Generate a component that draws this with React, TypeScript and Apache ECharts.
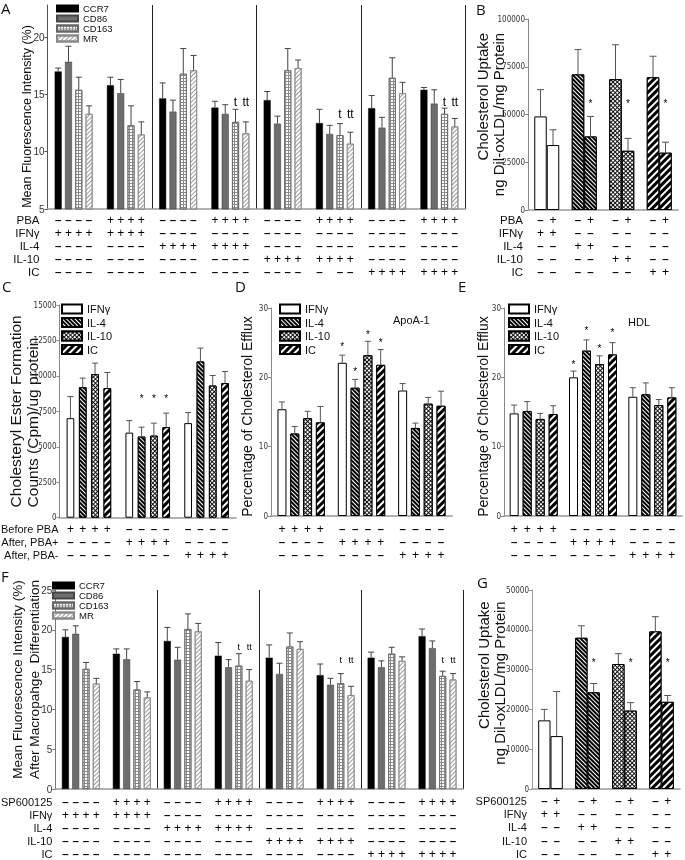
import React, { useEffect, useRef } from "react";
import * as echarts from "echarts";

const FONT = '"Liberation Sans", Arial, Helvetica, sans-serif';
const NARROW = '"Liberation Sans Narrow", "DejaVu Sans Condensed", "Liberation Sans", sans-serif';
const LETTER = '"Open Sans", "Liberation Sans", sans-serif';

// ================= Panel A =================
const A_GROUPS = ["g1", "g2", "g3", "g4", "g5", "g6", "g7", "g8"];
const MARKERS = ["CCR7", "CD86", "CD163", "MR"];
const A_TICKS = [5, 10, 15, 20];
const A_MAX = 22.8;
const A_CCR7 = [17.0, 15.8, 14.65, 13.85, 14.5, 12.5, 13.8, 15.4];
const A_CCR7_ERR = [17.3, 16.5, 16.0, 14.4, 15.25, 13.7, 14.9, 15.6];
const A_CD86 = [17.85, 15.1, 13.5, 13.3, 12.45, 11.55, 12.1, 14.2];
const A_CD86_ERR = [19.2, 16.3, 14.5, 14.1, 13.1, 12.3, 13.0, 15.4];
const A_CD163 = [15.4, 12.3, 16.8, 12.6, 17.1, 11.45, 16.45, 13.3];
const A_CD163_ERR = [16.5, 14.0, 19.0, 13.7, 19.0, 12.45, 18.2, 13.8];
const A_MR = [13.3, 11.5, 17.1, 11.6, 17.3, 10.7, 15.1, 12.2];
const A_MR_ERR = [14.0, 12.6, 18.4, 12.6, 18.0, 11.7, 16.05, 12.9];
// [group, bar, text, y]
const A_MARKS = [
  [3, 2, "t", 14.35], [3, 3, "tt", 14.35],
  [5, 2, "t", 13.3], [5, 3, "tt", 13.3],
  [7, 2, "t", 14.35], [7, 3, "tt", 14.35],
];
const A_ROW_NAMES = ["PBA", "IFNγ", "IL-4", "IL-10", "IC"];
const A_PBA = ["----", "++++", "----", "++++", "----", "++++", "----", "++++"];
const A_IFN = ["++++", "++++", "----", "----", "----", "----", "----", "----"];
const A_IL4 = ["----", "----", "++++", "++++", "----", "----", "----", "----"];
const A_IL10 = ["----", "----", "----", "----", "++++", "++++", "----", "----"];
const A_IC = ["----", "----", "----", "----", "----", "- --", "++++", "++++"];

// ================= Panel B =================
const B_GROUPS = ["IFNγ", "IL-4", "IL-10", "IC"];
const B_TICKS = [0, 25000, 50000, 75000, 100000];
const B_PBA_NEG = [49000, 71000, 68500, 69500];
const B_PBA_NEG_ERR = [63000, 84000, 86500, 80500];
const B_PBA_POS = [34000, 38500, 31000, 30000];
const B_PBA_POS_ERR = [42000, 49000, 37500, 35500];
const B_MARKS = [[1, 1, "*", 55600], [2, 1, "*", 55600], [3, 1, "*", 55600]];
const B_ROW_NAMES = ["PBA", "IFNγ", "IL-4", "IL-10", "IC"];
const B_PBA = ["-+", "-+", "-+", "-+"];
const B_IFN = ["++", "--", "--", "--"];
const B_IL4 = ["--", "++", "--", "--"];
const B_IL10 = ["--", "--", "++", "--"];
const B_IC = ["--", "--", "--", "++"];

// ================= Panels C, D, E =================
const CYTOKINES = ["IFNγ", "IL-4", "IL-10", "IC"];
const CDE_GROUPS = ["Before PBA", "After, PBA+", "After, PBA-"];
const CDE_ROW_NAMES = ["Before PBA", "After, PBA+", "After, PBA-"];
const CDE_BEFORE = ["++++", "----", "----"];
const CDE_AFTER_POS = ["----", "++++", "----"];
const CDE_AFTER_NEG = ["----", "----", "++++"];

const C_TICKS = [0, 2500, 5000, 7500, 10000, 12500, 15000];
const C_IFN = [7020, 6000, 6670];
const C_IFN_ERR = [8545, 6850, 7415];
const C_IL4 = [9210, 5720, 11020];
const C_IL4_ERR = [9845, 6385, 11960];
const C_IL10 = [10130, 5790, 9320];
const C_IL10_ERR = [10900, 6670, 10030];
const C_IC = [9140, 6385, 9490];
const C_IC_ERR = [10240, 7375, 10310];
const C_MARKS = [[1, 1, "*", 8430], [1, 2, "*", 8430], [1, 3, "*", 8430]];

const D_TICKS = [0, 10, 20, 30];
const D_IFN = [15.4, 22.1, 18.1];
const D_IFN_ERR = [16.45, 23.2, 19.1];
const D_IL4 = [11.9, 18.5, 12.7];
const D_IL4_ERR = [12.9, 19.7, 13.4];
const D_IL10 = [14.1, 23.2, 16.2];
const D_IL10_ERR = [15.1, 25.2, 17.1];
const D_IC = [13.5, 21.8, 15.9];
const D_IC_ERR = [15.8, 24.0, 18.0];
const D_MARKS = [[1, 0, "*", 24.4], [1, 1, "*", 20.9], [1, 2, "*", 26.2], [1, 3, "*", 25.0]];

const E_TICKS = [0, 10, 20, 30];
const E_IFN = [14.8, 20.0, 17.2];
const E_IFN_ERR = [16.0, 20.9, 18.5];
const E_IL4 = [15.15, 23.85, 17.55];
const E_IL4_ERR = [16.5, 25.4, 19.2];
const E_IL10 = [14.0, 21.9, 16.0];
const E_IL10_ERR = [14.8, 23.1, 16.8];
const E_IC = [14.7, 23.3, 17.1];
const E_IC_ERR = [15.9, 25.0, 18.5];
const E_MARKS = [[1, 0, "*", 21.9], [1, 1, "*", 26.8], [1, 2, "*", 24.1], [1, 3, "*", 26.4]];

// ================= Panel F =================
const F_TICKS = [0, 5, 10, 15, 20, 25];
const F_CCR7 = [19.1, 17.0, 18.6, 16.75, 16.5, 14.3, 16.5, 19.2];
const F_CCR7_ERR = [20.0, 17.6, 20.3, 18.4, 18.1, 15.7, 17.2, 20.1];
const F_CD86 = [19.5, 16.3, 16.25, 15.3, 14.45, 13.1, 15.3, 17.7];
const F_CD86_ERR = [20.5, 17.6, 17.8, 16.25, 15.8, 13.9, 16.1, 18.6];
const F_CD163 = [15.1, 12.5, 20.1, 15.5, 17.9, 13.3, 17.0, 14.2];
const F_CD163_ERR = [15.9, 13.5, 22.0, 17.0, 19.6, 14.5, 17.8, 14.8];
const F_MR = [13.25, 11.5, 19.8, 13.6, 17.6, 11.8, 16.1, 13.75];
const F_MR_ERR = [13.9, 12.2, 20.8, 15.0, 18.5, 12.9, 16.6, 14.5];
const F_MARKS = [
  [3, 2, "t", 17.8], [3, 3, "tt", 17.8],
  [5, 2, "t", 16.2], [5, 3, "tt", 16.2],
  [7, 2, "t", 16.25], [7, 3, "tt", 16.25],
];
const F_ROW_NAMES = ["SP600125", "IFNγ", "IL-4", "IL-10", "IC"];
const F_SP = ["----", "++++", "----", "++++", "----", "++++", "----", "++++"];
const F_IFN = ["++++", "++++", "----", "----", "----", "----", "----", "----"];
const F_IL4 = ["----", "----", "++++", "++++", "----", "----", "----", "----"];
const F_IL10 = ["----", "----", "----", "----", "++++", "++++", "----", "----"];
const F_IC = ["----", "----", "----", "----", "----", "----", "++++", "++++"];

// ================= Panel G =================
const G_TICKS = [0, 10000, 20000, 30000, 40000, 50000];
const G_SP_NEG = [17250, 38000, 31400, 39600];
const G_SP_NEG_ERR = [20000, 41000, 34000, 43300];
const G_SP_POS = [13300, 24300, 19700, 21900];
const G_SP_POS_ERR = [24500, 26500, 21700, 23500];
const G_MARKS = [[1, 1, "*", 31750], [2, 1, "*", 31750], [3, 1, "*", 31750]];
const G_ROW_NAMES = ["SP600125", "IFNγ", "IL-4", "IL-10", "IC"];
const G_SP = ["-+", "-+", "-+", "-+"];
const G_IFN = ["++", "--", "--", "--"];
const G_IL4 = ["--", "++", "--", "--"];
const G_IL10 = ["--", "--", "++", "--"];
const G_IC = ["--", "--", "--", "++"];

// ================= Styles =================
const MARKER_STYLES: any[] = [
  { color: "#000", borderColor: "#000", borderWidth: 0.5 },
  { color: "#6d6d6d", borderColor: "#444", borderWidth: 0.6 },
  {
    color: "#fff", borderColor: "#666", borderWidth: 0.8,
    decal: { symbol: "rect", symbolSize: 1, symbolKeepAspect: false, color: "#8a8a8a", dashArrayX: [[3, 0], [1, 2]], dashArrayY: [1, 0, 2, 0] },
  },
  {
    color: "#fff", borderColor: "#888", borderWidth: 0.8,
    decal: { symbol: "rect", symbolSize: 1, color: "#9a9a9a", dashArrayX: [1, 0], dashArrayY: [1, 1.5], rotation: -Math.PI / 4 },
  },
];
const CYTO_STYLES: any[] = [
  { color: "#fff", borderColor: "#000", borderWidth: 1 },
  {
    color: "#000", borderColor: "#000", borderWidth: 1,
    decal: { symbol: "rect", symbolSize: 1, color: "#fff", dashArrayX: [1, 0], dashArrayY: [1, 2], rotation: Math.PI / 4 },
  },
  {
    color: "#111", borderColor: "#000", borderWidth: 1,
    decal: { symbol: "rect", symbolSize: 1, color: "#fff", dashArrayX: [2, 1], dashArrayY: [2, 1], rotation: Math.PI / 4 },
  },
  {
    color: "#000", borderColor: "#000", borderWidth: 1,
    decal: { symbol: "rect", symbolSize: 1, color: "#fff", dashArrayX: [1, 0], dashArrayY: [2, 3], rotation: -Math.PI / 4 },
  },
];

function signLabel(s: string) {
  return s
    .split("")
    .map((c) => (c === "+" ? "{p|+}" : c === "-" ? "{m|–}" : "{e| }"))
    .join("");
}
function signRich(w: number) {
  return {
    p: { width: w, align: "center", fontSize: 12, fontFamily: FONT, color: "#000", lineHeight: 11 },
    m: { width: w, align: "center", fontSize: 11.5, fontWeight: "bold", fontFamily: FONT, color: "#000", lineHeight: 11 },
    e: { width: w, align: "center", fontSize: 11.5, fontFamily: FONT, lineHeight: 11 },
  };
}

function buildPanel(p: any, acc: any) {
  const { grid, xAxis, yAxis, series } = acc;
  const gi = grid.length;
  grid.push({ left: p.box[0], top: p.box[1], width: p.box[2], height: p.box[3] });
  const yi = yAxis.length;
  yAxis.push({
    type: "value",
    gridIndex: gi,
    min: p.ticks[0],
    max: p.max,
    axisLine: { show: true, lineStyle: { color: p.yColor, width: 1 } },
    axisTick: { show: true, length: 3, customValues: p.ticks, lineStyle: { color: p.yColor } },
    axisLabel: {
      customValues: p.ticks,
      fontSize: p.tickSize,
      fontFamily: p.tickFont,
      color: "#333",
      margin: 3,
      formatter: (v: number) => String(v),
    },
    splitLine: { show: false },
    name: p.yName,
    nameLocation: "middle",
    nameRotate: 90,
    nameGap: p.yNameGap,
    nameMoveOverlap: false,
    nameTextStyle: {
      fontSize: p.yNameSize,
      fontFamily: FONT,
      color: "#111",
      lineHeight: p.yNameLH,
      padding: p.yNamePad,
      rich: { r: { fontSize: p.yNameSize, fontFamily: FONT, color: "#111", lineHeight: p.yNameLH, align: p.yNameAlign } },
    },
  });
  const xi = xAxis.length;
  xAxis.push({
    type: "category",
    gridIndex: gi,
    data: p.cats,
    position: "bottom",
    axisLine: { show: true, onZero: false, lineStyle: { color: p.xColor, width: 1.6 } },
    axisTick: { show: false },
    axisLabel: { show: false },
    splitLine: p.dividers
      ? { show: true, interval: (i: number) => p.dividers.includes(i), lineStyle: { color: "#222", width: 1 } }
      : { show: false },
  });
  const step = p.barWidth + p.gapPx;
  p.rows.forEach((r: any) => {
    xAxis.push({
      type: "category",
      gridIndex: gi,
      data: p.cats,
      position: "bottom",
      offset: r.offset,
      axisLine: { show: false, onZero: false },
      axisTick: { show: false },
      splitLine: { show: false },
      axisLabel: {
        show: true,
        interval: 0,
        margin: 0,
        verticalAlign: "middle",
        formatter: (_v: any, idx: number) => signLabel(r.signs[idx]),
        rich: signRich(step),
      },
      name: r.name || "",
      nameLocation: "start",
      nameGap: p.rowNameGap,
      nameMoveOverlap: false,
      nameTextStyle: { fontSize: p.rowNameSize, fontFamily: FONT, color: "#111", align: "right", verticalAlign: "middle", lineHeight: 11 },
    });
  });
  const n = p.values.length;
  p.values.forEach((vals: number[], k: number) => {
    series.push({
      type: "bar",
      name: p.names[k],
      xAxisIndex: xi,
      yAxisIndex: yi,
      data: vals.map((v, g) => (p.itemStyles ? { value: v, itemStyle: p.itemStyles[g] } : v)),
      barWidth: p.barWidth,
      barGap: (p.gapPx / p.barWidth) * 100 + "%",
      itemStyle: p.seriesStyles[k],
      silent: true,
      emphasis: { disabled: true },
      z: 2,
    });
  });
  const items: any[] = [];
  p.values.forEach((vals: number[], k: number) =>
    vals.forEach((v, g) => items.push({ g, k, v, e: p.errs[k][g] }))
  );
  series.push({
    type: "custom",
    xAxisIndex: xi,
    yAxisIndex: yi,
    silent: true,
    z: 3,
    data: items.map((it) => [it.g, it.v, it.e]),
    encode: { x: 0, y: [1, 2] },
    renderItem: (params: any, api: any) => {
      const it = items[params.dataIndex];
      const a = api.coord([it.g, it.v]);
      const b = api.coord([it.g, it.e]);
      const x = a[0] + (it.k - (n - 1) / 2) * step;
      const c = p.capWidth / 2;
      return {
        type: "group",
        children: [
          { type: "line", shape: { x1: x, y1: a[1], x2: x, y2: b[1] }, style: { stroke: p.errColor, lineWidth: 1 } },
          { type: "line", shape: { x1: x - c, y1: b[1], x2: x + c, y2: b[1] }, style: { stroke: p.errColor, lineWidth: 1 } },
        ],
      };
    },
  });
  if (p.marks && p.marks.length) {
    series.push({
      type: "custom",
      xAxisIndex: xi,
      yAxisIndex: yi,
      silent: true,
      z: 4,
      data: p.marks.map((m: any) => [m[0], m[3]]),
      encode: { x: 0, y: 1 },
      renderItem: (params: any, api: any) => {
        const m = p.marks[params.dataIndex];
        const pt = api.coord([m[0], m[3]]);
        return {
          type: "text",
          x: pt[0] + (m[1] - (n - 1) / 2) * step,
          y: pt[1],
          style: { text: m[2], fontSize: p.markSize, fontFamily: FONT, fill: "#000", align: "center", verticalAlign: "middle" },
        };
      },
    });
  }
}

function rows(names: (string | undefined)[], signs: string[][], offsets: number[]) {
  return signs.map((s, i) => ({ name: names[i], signs: s, offset: offsets[i] }));
}

function buildOption() {
  const acc: any = { grid: [], xAxis: [], yAxis: [], series: [] };

  const markerCommon = {
    names: MARKERS,
    seriesStyles: MARKER_STYLES,
    barWidth: 7,
    gapPx: 3.3,
    capWidth: 6,
    dividers: [2, 4, 6],
    rowNameSize: 11.5,
    rowNameGap: 8,
    tickFont: FONT,
    tickSize: 10,
    yColor: "#555",
    xColor: "#999",
    errColor: "#444",
    yNameAlign: "center",
  };

  // A
  buildPanel(
    {
      ...markerCommon,
      box: [47.5, 5, 418, 204],
      cats: A_GROUPS,
      ticks: A_TICKS,
      max: A_MAX,
      values: [A_CCR7, A_CD86, A_CD163, A_MR],
      errs: [A_CCR7_ERR, A_CD86_ERR, A_CD163_ERR, A_MR_ERR],
      rows: rows(A_ROW_NAMES, [A_PBA, A_IFN, A_IL4, A_IL10, A_IC], [11, 24, 37, 50, 63]),
      marks: A_MARKS,
      markSize: 12,
      yName: "Mean Fluorescence Intensity (%)",
      yNameSize: 12.5,
      yNameLH: 14,
      yNameGap: 14,
      yNamePad: [0, 19, 0, 0],
    },
    acc
  );

  const uptakeCommon = {
    names: ["minus", "plus"],
    seriesStyles: [CYTO_STYLES[0], CYTO_STYLES[0]],
    itemStyles: CYTO_STYLES,
    barWidth: 12.5,
    gapPx: 0,
    capWidth: 7,
    rowNameSize: 11.5,
    rowNameGap: 5,
    tickFont: NARROW,
    tickSize: 8,
    yColor: "#888",
    xColor: "#999",
    errColor: "#555",
    markSize: 10,
    yNameSize: 15,
    yNameLH: 15.5,
    yNameAlign: "right",
  };

  // B
  buildPanel(
    {
      ...uptakeCommon,
      box: [528, 19, 150, 191],
      cats: B_GROUPS,
      ticks: B_TICKS,
      max: 100000,
      values: [B_PBA_NEG, B_PBA_POS],
      errs: [B_PBA_NEG_ERR, B_PBA_POS_ERR],
      rows: rows(B_ROW_NAMES, [B_PBA, B_IFN, B_IL4, B_IL10, B_IC], [10, 23, 36, 49, 62]),
      marks: B_MARKS,
      yName: "{r|Cholesterol Uptake}\n{r|ng Dil-oxLDL/mg Protein}",
      yNameGap: 22,
      yNamePad: [0, 0, 0, 0],
    },
    acc
  );

  const cdeCommon = {
    names: CYTOKINES,
    seriesStyles: CYTO_STYLES,
    capWidth: 6,
    rowNameSize: 11,
    rowNameGap: 1,
    tickFont: NARROW,
    tickSize: 8,
    yColor: "#888",
    xColor: "#999",
    errColor: "#555",
    markSize: 10,
    yNameLH: 17,
  };

  // C
  buildPanel(
    {
      ...cdeCommon,
      box: [56, 305, 180, 212.7],
      cats: CDE_GROUPS,
      ticks: C_TICKS,
      max: 15000,
      barWidth: 7.7,
      gapPx: 4.6,
      values: [C_IFN, C_IL4, C_IL10, C_IC],
      errs: [C_IFN_ERR, C_IL4_ERR, C_IL10_ERR, C_IC_ERR],
      rows: rows(CDE_ROW_NAMES, [CDE_BEFORE, CDE_AFTER_POS, CDE_AFTER_NEG], [11.3, 24.3, 37.3]),
      marks: C_MARKS,
      yName: "{r|Cholesteryl Ester Formation}\n{r|Counts (Cpm)/ug protein}",
      yNameSize: 15.5,
      yNameAlign: "left",
      yNameGap: 18,
      yNamePad: [0, 0, 0, 0],
    },
    acc
  );

  // D
  buildPanel(
    {
      ...cdeCommon,
      box: [271, 308, 181, 208],
      cats: CDE_GROUPS,
      ticks: D_TICKS,
      max: 30,
      barWidth: 9,
      gapPx: 3.8,
      values: [D_IFN, D_IL4, D_IL10, D_IC],
      errs: [D_IFN_ERR, D_IL4_ERR, D_IL10_ERR, D_IC_ERR],
      rows: rows([undefined, undefined, undefined], [CDE_BEFORE, CDE_AFTER_POS, CDE_AFTER_NEG], [13, 26, 39]),
      marks: D_MARKS,
      yName: "Percentage of Cholesterol Efflux",
      yNameSize: 14,
      yNameLH: 16,
      yNameAlign: "center",
      yNameGap: 16,
      yNamePad: [0, 9, 0, 0],
    },
    acc
  );

  // E
  buildPanel(
    {
      ...cdeCommon,
      box: [504, 308, 178, 208],
      cats: CDE_GROUPS,
      ticks: E_TICKS,
      max: 30,
      barWidth: 9,
      gapPx: 4,
      values: [E_IFN, E_IL4, E_IL10, E_IC],
      errs: [E_IFN_ERR, E_IL4_ERR, E_IL10_ERR, E_IC_ERR],
      rows: rows([undefined, undefined, undefined], [CDE_BEFORE, CDE_AFTER_POS, CDE_AFTER_NEG], [13, 26, 39]),
      marks: E_MARKS,
      yName: "Percentage of Cholesterol Efflux",
      yNameSize: 14,
      yNameLH: 16,
      yNameAlign: "center",
      yNameGap: 13,
      yNamePad: [0, 9, 0, 0],
    },
    acc
  );

  // F
  buildPanel(
    {
      ...markerCommon,
      yColor: "#777",
      box: [46, 590, 417, 200],
      cats: A_GROUPS,
      ticks: F_TICKS,
      max: 25,
      values: [F_CCR7, F_CD86, F_CD163, F_MR],
      errs: [F_CCR7_ERR, F_CD86_ERR, F_CD163_ERR, F_MR_ERR],
      rows: rows(F_ROW_NAMES, [F_SP, F_IFN, F_IL4, F_IL10, F_IC], [13, 26, 39, 52, 65]),
      rowNameSize: 11,
      rowNameGap: 3,
      marks: F_MARKS,
      markSize: 9,
      yName: "Mean Fluorescence Intensity (%)\nAfter Macropahge  Differentiation",
      yNameSize: 13.6,
      yNameLH: 17.5,
      yNameGap: 12,
      yNamePad: [0, 0, 0, 20],
    },
    acc
  );

  // G
  buildPanel(
    {
      ...uptakeCommon,
      yColor: "#999",
      box: [532, 590, 148, 200],
      cats: B_GROUPS,
      ticks: G_TICKS,
      max: 50000,
      barWidth: 12.3,
      values: [G_SP_NEG, G_SP_POS],
      errs: [G_SP_NEG_ERR, G_SP_POS_ERR],
      rows: rows(G_ROW_NAMES, [G_SP, G_IFN, G_IL4, G_IL10, G_IC], [12, 25, 38, 52, 65]),
      rowNameSize: 11,
      marks: G_MARKS,
      yName: "{r|Cholesterol Uptake}\n{r|ng Dil-oxLDL/mg Protein}",
      yNameGap: 25,
      yNamePad: [0, 0, 0, 13],
    },
    acc
  );

  const legendText = (fs: number, lh: number) => ({ fontSize: fs, lineHeight: lh, fontFamily: FONT, color: "#111" });
  const markerLegend = (left: number, top: number, lh: number, gap: number) => ({
    data: MARKERS, orient: "vertical", left, top, padding: 0, icon: "rect",
    itemWidth: 21, itemHeight: 6, itemGap: gap, selectedMode: false, textStyle: legendText(9.5, lh),
  });
  const cytoLegend = (left: number, top: number) => ({
    data: CYTOKINES, orient: "vertical", left, top, padding: 0, icon: "rect",
    itemWidth: 20, itemHeight: 9, itemGap: 2.5, selectedMode: false, textStyle: legendText(11, 10),
  });

  const letter = (text: string, left: number, top: number) => ({
    text, left, top, padding: 0,
    textStyle: { fontSize: 15, fontWeight: "normal", fontFamily: LETTER, color: "#111" },
  });

  return {
    animation: false,
    textStyle: { fontFamily: FONT },
    title: [
      letter("A", 1, 0),
      letter("B", 476, 1),
      letter("C", 2, 278),
      letter("D", 235, 278),
      letter("E", 458, 278),
      letter("F", 1, 568),
      letter("G", 477, 574),
      { text: "ApoA-1", left: 393, top: 314, padding: 0, textStyle: { fontSize: 11, fontWeight: "normal", fontFamily: FONT, color: "#111" } },
      { text: "HDL", left: 628, top: 316, padding: 0, textStyle: { fontSize: 11, fontWeight: "normal", fontFamily: FONT, color: "#111" } },
    ],
    legend: [
      markerLegend(56, 3.5, 8.6, 0),
      markerLegend(52, 580.5, 7.6, 0),
      cytoLegend(61, 303.5),
      cytoLegend(279, 303.5),
      cytoLegend(508, 303.5),
    ],
    grid: acc.grid,
    xAxis: acc.xAxis,
    yAxis: acc.yAxis,
    series: acc.series,
  };
}

export default function App() {
  const ref = useRef<HTMLDivElement>(null);
  useEffect(() => {
    document.body.style.margin = "0";
    const chart = echarts.init(ref.current as HTMLDivElement, undefined, { renderer: "svg" });
    chart.setOption(buildOption() as any);
    return () => chart.dispose();
  }, []);
  return <div ref={ref} style={{ width: 685, height: 860, willChange: "transform" }} />;
}
